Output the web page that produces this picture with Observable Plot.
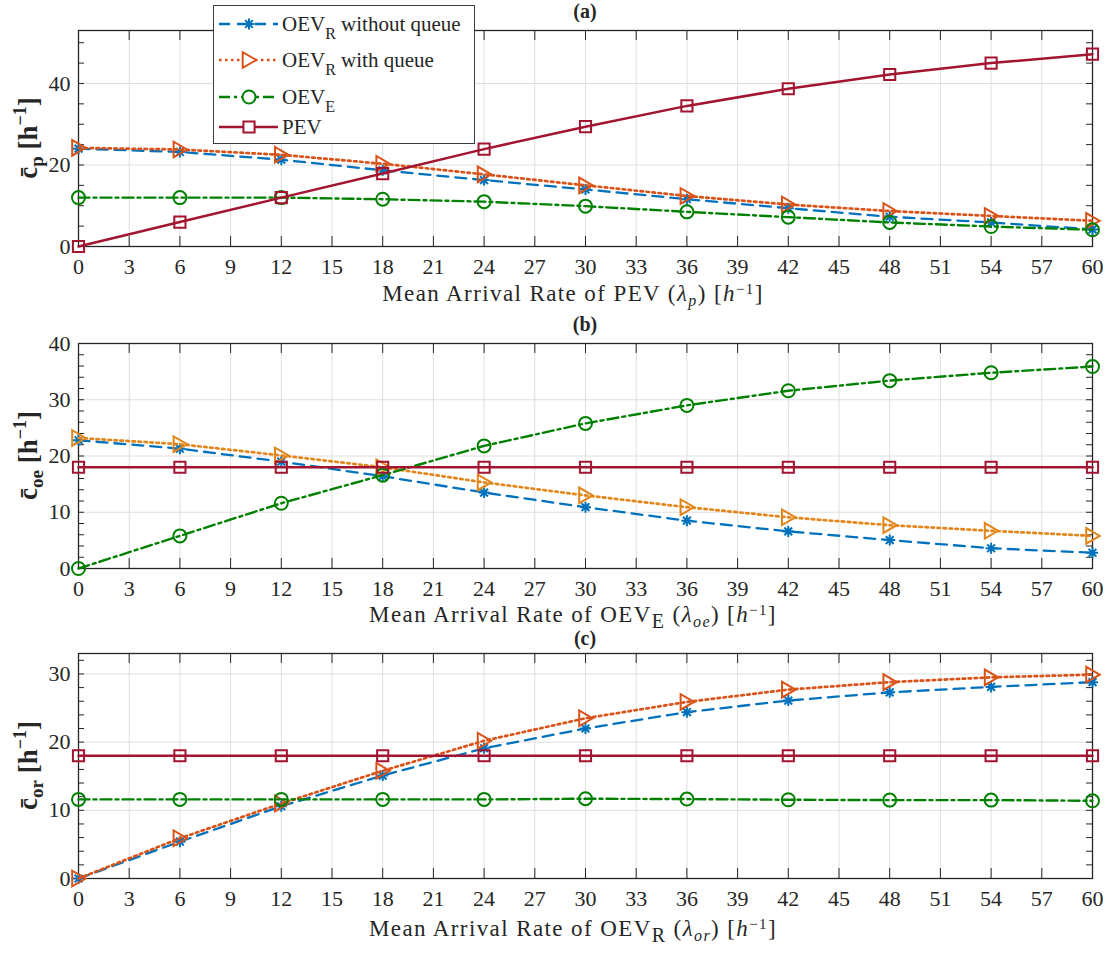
<!DOCTYPE html>
<html><head><meta charset="utf-8">
<script src="https://cdn.jsdelivr.net/npm/d3@7"></script>
<script src="https://cdn.jsdelivr.net/npm/@observablehq/plot@0.6"></script>
<style>
body{margin:0;background:#fff;}
#chart{position:relative;width:1113px;height:954px;}
#chart svg{display:block;overflow:visible;font-family:"Liberation Serif","Times New Roman",serif;}
#chart svg text{font-family:"Liberation Serif","Times New Roman",serif;}
</style></head><body><div id="chart"></div>
<script>
// ---------- data ----------
const xValues = [0, 6, 12, 18, 24, 30, 36, 42, 48, 54, 60];
const xTickValues = [0, 3, 6, 9, 12, 15, 18, 21, 24, 27, 30, 33, 36, 39, 42, 45, 48, 51, 54, 57, 60];

// panel (a): vs PEV arrival rate
const aOevRWithout = [24.0, 23.2, 21.3, 18.7, 16.3, 14.0, 11.6, 9.4, 7.3, 5.9, 4.2];
const aOevRWith    = [24.2, 23.8, 22.5, 20.3, 17.7, 15.0, 12.4, 10.3, 8.7, 7.5, 6.3];
const aOevE        = [12.0, 12.0, 12.0, 11.6, 11.0, 9.9, 8.5, 7.2, 5.9, 4.9, 4.1];
const aPev         = [0, 6.0, 12.0, 17.9, 23.9, 29.4, 34.5, 38.7, 42.2, 45.0, 47.2];
const aYTicks = [0, 20, 40];
const aYMinor = [0, 5, 10, 15, 20, 25, 30, 35, 40, 45, 50];

// panel (b): vs OEV_E arrival rate
const bOevRWithout = [22.8, 21.3, 19.0, 16.4, 13.5, 10.9, 8.5, 6.6, 5.05, 3.6, 2.8];
const bOevRWith    = [23.2, 22.1, 20.1, 18.0, 15.3, 13.0, 10.9, 9.1, 7.7, 6.7, 5.8];
const bOevE        = [0, 5.8, 11.6, 16.6, 21.8, 25.8, 29.0, 31.6, 33.4, 34.8, 35.9];
const bPev         = [18, 18, 18, 18, 18, 18, 18, 18, 18, 18, 18];
const bYTicks = [0, 10, 20, 30, 40];
const bYMinor = [0, 2, 4, 6, 8, 10, 12, 14, 16, 18, 20, 22, 24, 26, 28, 30, 32, 34, 36, 38, 40];

// panel (c): vs OEV_R arrival rate
const cOevRWithout = [0, 5.4, 10.6, 15.1, 19.1, 22.0, 24.4, 26.1, 27.3, 28.1, 28.8];
const cOevRWith    = [0, 5.9, 11.0, 15.8, 20.2, 23.5, 25.9, 27.7, 28.8, 29.5, 29.9];
const cOevE        = [11.6, 11.6, 11.6, 11.6, 11.6, 11.7, 11.65, 11.55, 11.5, 11.5, 11.4];
const cPev         = [18, 18, 18, 18, 18, 18, 18, 18, 18, 18, 18];
const cYTicks = [0, 10, 20, 30];
const cYMinor = [0, 2, 4, 6, 8, 10, 12, 14, 16, 18, 20, 22, 24, 26, 28, 30, 32];

const seriesNames = ["OEV_R without queue", "OEV_R with queue", "OEV_E", "PEV"];

// ---------- styles ----------
const BLUE = "#0072BD", ORANGE = "#D95319", ORANGE_B = "#E2861B", GREEN = "#008000", RED = "#A2142F";
const INK = "#262626";
const FONT = '"Liberation Serif", "Times New Roman", serif';

const symAsterisk = {draw(ctx, size) { const r = Math.sqrt(size / Math.PI), d = r * 0.7071;
  ctx.moveTo(-r, 0); ctx.lineTo(r, 0); ctx.moveTo(0, -r); ctx.lineTo(0, r);
  ctx.moveTo(-d, -d); ctx.lineTo(d, d); ctx.moveTo(-d, d); ctx.lineTo(d, -d); }};
const symTriRight = {draw(ctx, size) { const r = Math.sqrt(size / Math.PI);
  ctx.moveTo(1.2 * r, 0); ctx.lineTo(-1.05 * r, -1.3 * r); ctx.lineTo(-1.05 * r, 1.3 * r); ctx.closePath(); }};
const symCircle = {draw(ctx, size) { const r = Math.sqrt(size / Math.PI);
  ctx.moveTo(r, 0); ctx.arc(0, 0, r, 0, 2 * Math.PI); }};
const symSquare = {draw(ctx, size) { const h = Math.sqrt(size / Math.PI) * 0.9;
  ctx.rect(-h, -h, 2 * h, 2 * h); }};

function styleFor(name, orange) {
  switch (name) {
    case "OEV_R without queue": return {stroke: BLUE, dash: "11,7", symbol: symAsterisk, r: 5.5, sw: 2.3};
    case "OEV_R with queue": return {stroke: orange, dash: "2.5,3.5", symbol: symTriRight, r: 6, sw: 2.7};
    case "OEV_E": return {stroke: GREEN, dash: "11,4,3,4", symbol: symCircle, r: 6.5, sw: 2.4};
    default: return {stroke: RED, dash: null, symbol: symSquare, r: 6.2, sw: 2.5};
  }
}

function addRich(svg, x, y, parts, opts) {
  const t = d3.select(svg).append("text")
    .attr("x", x).attr("y", y)
    .attr("text-anchor", opts.anchor || "middle")
    .attr("font-family", FONT)
    .attr("font-size", opts.size)
    .attr("font-weight", opts.weight || "normal")
    .attr("fill", INK);
  if (opts.spacing) t.attr("letter-spacing", opts.spacing);
  if (opts.rotate) t.attr("transform", `rotate(${opts.rotate},${x},${y})`);
  let shift = 0;
  for (const p of parts) {
    const ts = t.append("tspan").text(p.t);
    const target = p.dy || 0;
    if (target !== shift) ts.attr("dy", target - shift);
    shift = target;
    if (p.size) ts.attr("font-size", p.size);
    if (p.italic) ts.attr("font-style", "italic");
  }
  return t;
}

function panel(cfg) {
  const ml = 78, mr = 21, width = 1113;
  const innerW = width - ml - mr;
  const innerH = cfg.height - cfg.mt - cfg.mb;
  const rows = [];
  cfg.series.forEach((vals, i) => vals.forEach((v, j) => rows.push({series: seriesNames[i], x: xValues[j], y: v})));
  const marks = [
    Plot.gridX(xTickValues, {stroke: "#dedede", strokeOpacity: 1, strokeWidth: 1}),
    Plot.gridY(cfg.yTicks, {stroke: "#dedede", strokeOpacity: 1, strokeWidth: 1}),
    Plot.tickX(xTickValues, {x: d => d, insetTop: innerH - 10, stroke: INK, strokeWidth: 1}),
    Plot.tickX(xTickValues, {x: d => d, insetBottom: innerH - 10, stroke: INK, strokeWidth: 1}),
    Plot.tickY(cfg.yMinor, {y: d => d, insetRight: innerW - 6, stroke: INK, strokeWidth: 1}),
    Plot.tickY(cfg.yMinor, {y: d => d, insetLeft: innerW - 6, stroke: INK, strokeWidth: 1}),
    Plot.frame({stroke: INK, strokeWidth: 1.3}),
    Plot.axisX(xTickValues, {anchor: "bottom", tickSize: 0, tickPadding: 12, label: null, fill: INK, fontSize: 22, fontFamily: FONT}),
    Plot.axisY(cfg.yTicks, {anchor: "left", tickSize: 0, tickPadding: 8, label: null, fill: INK, fontSize: 22, fontFamily: FONT})
  ];
  for (const name of seriesNames) {
    const s = styleFor(name, cfg.orange);
    const data = rows.filter(d => d.series === name);
    marks.push(Plot.line(data, {x: "x", y: "y", stroke: s.stroke, strokeWidth: s.sw, strokeDasharray: s.dash}));
    marks.push(Plot.dot(data, {x: "x", y: "y", symbol: s.symbol, r: s.r, stroke: s.stroke, strokeWidth: 2, fill: "none"}));
  }
  const svg = Plot.plot({
    width, height: cfg.height,
    marginLeft: ml, marginRight: mr, marginTop: cfg.mt, marginBottom: cfg.mb,
    x: {domain: [0, 60]},
    y: {domain: cfg.yDomain},
    style: {fontFamily: FONT, fontSize: "22px", overflow: "visible", background: "transparent", color: INK},
    marks
  });
  svg.setAttribute("font-family", FONT);
  const cx = ml + innerW / 2;
  // panel title
  addRich(svg, cx, cfg.mt - cfg.titleOff, [{t: cfg.title}], {size: 20, weight: "bold"});
  // y label
  addRich(svg, 37, cfg.mt + innerH / 2, [
    {t: "c\u0304"}, {t: cfg.ySub, size: 19, dy: 6}, {t: " [h", dy: 0}, {t: "\u22121", size: 18, dy: -11}, {t: "]", dy: 0}
  ], {size: 27, weight: "bold", rotate: -90});
  // x label
  addRich(svg, cx - 12, cfg.mt + innerH + cfg.xlOff, cfg.xLabel, {size: 23, spacing: 1.4});
  return svg;
}

const xLabelTail = (sub) => [
  {t: " ("}, {t: "\u03bb", italic: true}, {t: sub, italic: true, size: 16, dy: 5}, {t: ") [", dy: 0},
  {t: "h", italic: true}, {t: "\u22121", size: 15, dy: -7}, {t: "]", dy: 0}
];

const chart = document.getElementById("chart");
chart.appendChild(panel({
  height: 312, mt: 30, mb: 66, title: "(a)", titleOff: 12, ySub: "p", orange: ORANGE, xlOff: 55,
  yDomain: [0, 53], yTicks: aYTicks, yMinor: aYMinor,
  series: [aOevRWithout, aOevRWith, aOevE, aPev],
  xLabel: [{t: "Mean Arrival Rate of PEV"}, ...xLabelTail("p")]
}));
chart.appendChild(panel({
  height: 318, mt: 31, mb: 62, title: "(b)", titleOff: 12, ySub: "oe", orange: ORANGE_B, xlOff: 53.5,
  yDomain: [0, 40], yTicks: bYTicks, yMinor: bYMinor,
  series: [bOevRWithout, bOevRWith, bOevE, bPev],
  xLabel: [{t: "Mean Arrival Rate of OEV"}, {t: "E", size: 20, dy: 6}, ...xLabelTail("oe")]
}));
chart.appendChild(panel({
  height: 324, mt: 23, mb: 76, title: "(c)", titleOff: 8, ySub: "or", orange: ORANGE, xlOff: 58,
  yDomain: [0, 33], yTicks: cYTicks, yMinor: cYMinor,
  series: [cOevRWithout, cOevRWith, cOevE, cPev],
  xLabel: [{t: "Mean Arrival Rate of OEV"}, {t: "R", size: 20, dy: 6}, ...xLabelTail("or")]
}));

// ---------- legend (overlaid on panel a) ----------
const legendItems = [
  {name: "OEV_R without queue", parts: [{t: "OEV"}, {t: "R", size: 16, dy: 8}, {t: " without queue", dy: 0}], y: 19},
  {name: "OEV_R with queue", parts: [{t: "OEV"}, {t: "R", size: 16, dy: 8}, {t: " with queue", dy: 0}], y: 55},
  {name: "OEV_E", parts: [{t: "OEV"}, {t: "E", size: 16, dy: 8}], y: 92},
  {name: "PEV", parts: [{t: "PEV"}], y: 122}
];
const leg = d3.create("svg").attr("width", 262).attr("height", 139)
  .style("position", "absolute").style("left", "213px").style("top", "5px");
leg.append("rect").attr("x", 0.5).attr("y", 0.5).attr("width", 261).attr("height", 138)
  .attr("fill", "#fff").attr("stroke", "#3c3c3c").attr("stroke-width", 1);
for (const it of legendItems) {
  const s = styleFor(it.name, ORANGE);
  leg.append("line").attr("x1", 6).attr("x2", 65).attr("y1", it.y).attr("y2", it.y)
    .attr("stroke", s.stroke).attr("stroke-width", s.sw).attr("stroke-dasharray", s.dash || null);
  const path = d3.path();
  s.symbol.draw(path, Math.PI * s.r * s.r);
  leg.append("path").attr("d", path.toString()).attr("transform", `translate(36,${it.y})`)
    .attr("fill", "#fff").attr("stroke", s.stroke).attr("stroke-width", 2);
  addRich(leg.node(), 69, it.y + 7, it.parts, {size: 21, anchor: "start"});
}
chart.appendChild(leg.node());
</script></body></html>
